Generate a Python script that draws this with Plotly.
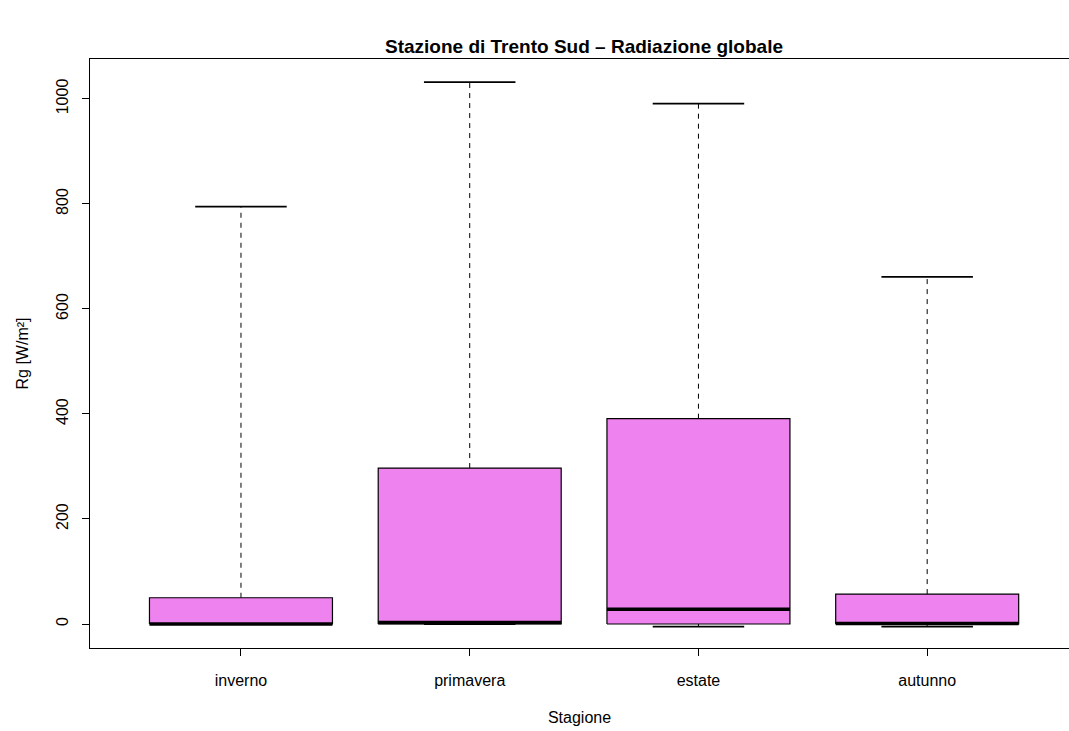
import plotly.graph_objects as go

# Data (W/m²)
seasons = ["inverno", "primavera", "estate", "autunno"]
lower_whisker = [0, 0, -5, -5]
q1 = [0, 0, 0, 0]
median = [0, 3, 28, 1]
q3 = [50, 297, 391, 57]
upper_whisker = [795, 1032, 991, 661]

FILL = "#EE82EE"
BOXW = 0.4     # half box width (boxwex 0.8)
STAPW = 0.2    # half staple width
FONT = "Liberation Sans, Arial, Helvetica, sans-serif"
FS = 16

fig = go.Figure()
positions = list(range(1, len(seasons) + 1))

for i, xpos in enumerate(positions):
    # whiskers (dashed)
    fig.add_trace(go.Scatter(
        x=[xpos, xpos], y=[q3[i], upper_whisker[i]], mode="lines",
        line=dict(color="black", width=1, dash="5px,5px"),
        hoverinfo="skip", showlegend=False))
    fig.add_trace(go.Scatter(
        x=[xpos, xpos], y=[q1[i], lower_whisker[i]], mode="lines",
        line=dict(color="black", width=1, dash="5px,5px"),
        hoverinfo="skip", showlegend=False))
    # staples
    for v in (upper_whisker[i], lower_whisker[i]):
        fig.add_trace(go.Scatter(
            x=[xpos - STAPW, xpos + STAPW], y=[v, v], mode="lines",
            line=dict(color="black", width=1.8),
            hoverinfo="skip", showlegend=False))
    # box
    fig.add_trace(go.Scatter(
        x=[xpos - BOXW, xpos + BOXW, xpos + BOXW, xpos - BOXW, xpos - BOXW],
        y=[q1[i], q1[i], q3[i], q3[i], q1[i]],
        mode="lines", fill="toself", fillcolor=FILL,
        line=dict(color="black", width=1.2),
        hoverinfo="skip", showlegend=False))
    # median
    fig.add_trace(go.Scatter(
        x=[xpos - BOXW, xpos + BOXW], y=[median[i], median[i]], mode="lines",
        line=dict(color="black", width=3.5),
        hoverinfo="skip", showlegend=False))

fig.update_layout(
    width=1069, height=731,
    margin=dict(l=90, r=0, t=59, b=83),
    paper_bgcolor="white", plot_bgcolor="white",
    font=dict(family=FONT, size=FS, color="black"),
    title=dict(text="<b>Stazione di Trento Sud – Radiazione globale</b>",
               x=584 / 1069, xref="container", xanchor="center",
               y=1 - 46 / 731, yref="container", yanchor="middle",
               font=dict(family=FONT, size=19, color="black")),
    showlegend=False,
)

fig.update_xaxes(
    range=[0.34, 4.62],
    tickmode="array", tickvals=positions, ticktext=seasons,
    ticks="outside", ticklen=7, tickcolor="black", tickwidth=1,
    showline=True, linecolor="black", linewidth=1, mirror=True,
    showgrid=False, zeroline=False,
    ticklabelstandoff=11,
    tickfont=dict(family=FONT, size=FS, color="black"),
    title=dict(text="Stagione", standoff=23,
               font=dict(family=FONT, size=FS, color="black")),
)

fig.update_yaxes(
    range=[-45.7, 1076],
    tickmode="array", tickvals=[0, 200, 400, 600, 800, 1000],
    ticks="outside", ticklen=7, tickcolor="black", tickwidth=1,
    tickangle=-90,
    showline=True, linecolor="black", linewidth=1, mirror=False,
    showgrid=False, zeroline=False,
    ticklabelstandoff=8,
    tickfont=dict(family=FONT, size=FS, color="black"),
    title=dict(text="Rg [W/m²]", standoff=20,
               font=dict(family=FONT, size=FS, color="black")),
)

fig.write_html("out.html",
               config={"displayModeBar": False},
               post_script="document.body.style.margin='0';"
                           "document.body.style.overflow='hidden';")
